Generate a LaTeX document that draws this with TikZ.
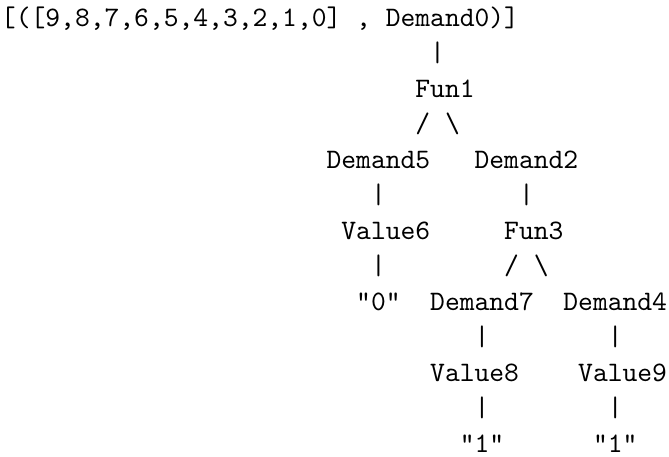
\documentclass[tikz,border=0pt]{standalone}
\usepackage{tikz}

% one monospaced cell of the printed tree: name, column, line, text
\newcommand{\artcell}[4]{%
  \node[ttcell] (#1) at ({1+#2*14.8},{26.5+(#3-1)*35.5}) {#4};}

\tikzset{
  ttcell/.style={anchor=base west, inner sep=0pt, outer sep=0pt,
                 font=\ttfamily\fontsize{10pt}{12pt}\selectfont, text=black}
}

\begin{document}
\begin{tikzpicture}[x=0.3547pt, y=-0.3547pt]
  \useasboundingbox[fill=white] (0,0) rectangle (669,457);

  % root line
  \artcell{list}{0}{1}{[([9,8,7,6,5,4,3,2,1,0]}
  \artcell{comma}{24}{1}{,}
  \artcell{d0}{26}{1}{Demand0)]}

  \artcell{bar1}{29}{2}{|}
  \artcell{fun1}{28}{3}{Fun1}
  \artcell{sl1}{28}{4}{/}
  \artcell{bs1}{30}{4}{\textbackslash}

  \artcell{d5}{22}{5}{Demand5}
  \artcell{d2}{32}{5}{Demand2}

  \artcell{bar2}{25}{6}{|}
  \artcell{bar3}{35}{6}{|}

  \artcell{v6}{23}{7}{Value6}
  \artcell{fun3}{34}{7}{Fun3}

  \artcell{bar4}{25}{8}{|}
  \artcell{sl2}{34}{8}{/}
  \artcell{bs2}{36}{8}{\textbackslash}

  \artcell{s0}{24}{9}{"0"}
  \artcell{d7}{29}{9}{Demand7}
  \artcell{d4}{38}{9}{Demand4}

  \artcell{bar5}{32}{10}{|}
  \artcell{bar6}{41}{10}{|}

  \artcell{v8}{29}{11}{Value8}
  \artcell{v9}{39}{11}{Value9}

  \artcell{bar7}{32}{12}{|}
  \artcell{bar8}{41}{12}{|}

  \artcell{s1a}{31}{13}{"1"}
  \artcell{s1b}{40}{13}{"1"}
\end{tikzpicture}
\end{document}
